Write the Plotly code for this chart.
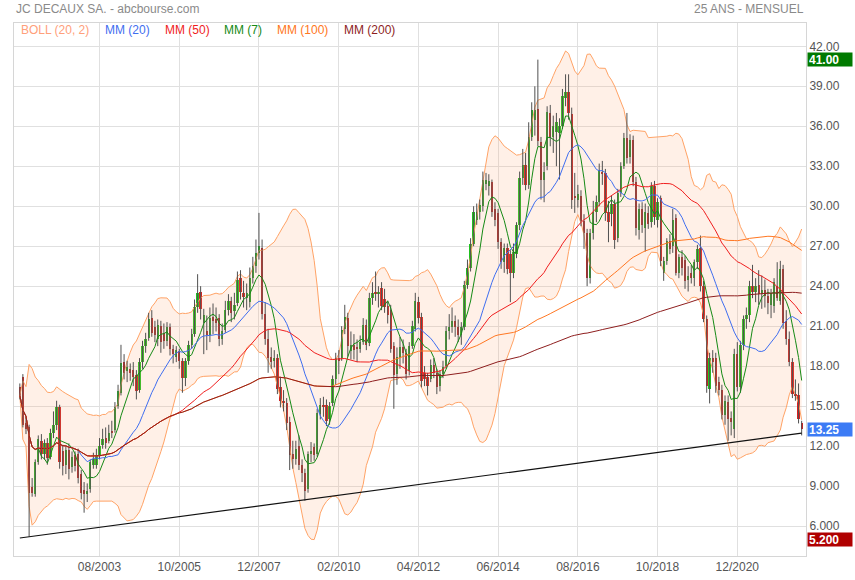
import pandas as pd
import plotly.graph_objects as go

# ---------------- data (monthly, June 2001 -> September 2022) ----------------
months = pd.date_range("2001-06-01", periods=256, freq="MS")

open_ = [
    16.4, 17.2, 13.7, 13.4, 8.9, 8.4, 10.8,
    12.4, 11.4, 12.2, 11.2, 13.0, 13.6, 14.9, 11.6, 10.6, 11.7, 10.4, 11.3,
    11.4, 9.9, 8.7, 8.4, 8.8, 10.6, 10.6, 11.3, 12.1, 12.6, 12.4, 13.1,
    13.2, 15.0, 16.0, 18.3, 17.6, 17.8, 17.7, 17.3, 16.2, 18.3, 19.5, 20.1,
    21.6, 20.9, 20.0, 21.0, 20.5, 19.9, 20.9, 19.3, 18.7, 19.1, 18.4, 17.1,
    18.4, 19.6, 20.4, 22.4, 23.6, 21.2, 20.6, 20.3, 21.7, 21.5, 21.6, 20.0,
    20.7, 22.2, 22.9, 22.1, 22.7, 24.6, 23.5, 23.1, 22.8, 24.6, 25.5, 26.5,
    26.9, 21.9, 20.0, 18.7, 18.4, 18.6, 16.4, 15.4, 15.2, 13.8, 11.4, 11.0,
    12.0, 10.6, 10.0, 8.8, 11.4, 11.9, 11.4, 14.4, 15.1, 15.1, 14.0, 15.2,
    17.0, 18.6, 18.6, 20.8, 21.6, 19.1, 19.6, 19.4, 19.3, 19.8, 21.1, 19.7,
    23.1, 23.6, 23.4, 23.9, 23.0, 22.5, 22.2, 19.5, 17.4, 18.6, 19.4, 19.0,
    17.6, 19.5, 20.8, 22.8, 21.7, 17.5, 17.2, 17.0, 18.1, 17.5, 16.5, 17.4,
    18.0, 20.6, 20.9, 21.4, 20.9, 20.3, 20.9, 24.1, 25.4, 27.2, 29.0, 29.6,
    30.0, 31.7, 31.5, 31.8, 29.8, 29.5, 27.3, 25.8, 26.9, 26.4, 25.0, 26.4,
    28.6, 32.1, 33.1, 31.6, 35.2, 36.5, 37.3, 34.8, 32.0, 33.0, 37.0, 35.2,
    35.6, 35.5, 36.0, 38.1, 38.6, 36.9, 30.8, 30.5, 30.8, 28.9, 28.0, 24.6,
    28.0, 29.6, 30.3, 32.6, 32.5, 29.6, 29.4, 30.2, 27.6, 31.0, 33.0, 35.1,
    33.7, 35.0, 31.8, 28.2, 29.8, 28.4, 29.5, 28.8, 31.5, 29.0, 30.6, 25.0,
    25.9, 27.4, 27.0, 29.1, 25.0, 26.2, 26.0, 24.5, 25.0, 24.6, 25.8, 26.9,
    24.0, 21.5, 16.3, 18.6, 18.6, 16.8, 16.2, 14.3, 15.3, 14.1, 13.3, 18.9,
    16.4, 19.6, 21.5, 21.8, 24.0, 23.6, 24.1, 23.4, 23.7, 23.3, 22.6, 22.5,
    24.0, 22.9, 25.3, 21.4, 20.0, 18.3, 15.9, 15.8, 13.7,
]
high = [
    16.7, 17.4, 14.2, 13.6, 9.6, 11.0, 12.8,
    12.9, 12.5, 12.6, 13.3, 14.6, 15.4, 15.1, 12.1, 12.0, 12.2, 11.6, 11.6,
    11.8, 10.2, 9.3, 9.2, 11.0, 11.5, 11.8, 12.6, 13.3, 13.4, 13.6, 13.9,
    15.3, 16.6, 19.6, 18.9, 18.4, 18.2, 18.3, 17.7, 18.6, 19.9, 20.5, 22.0,
    22.2, 21.4, 21.5, 21.4, 21.2, 21.3, 21.2, 19.6, 19.5, 19.3, 18.6, 18.6,
    19.9, 20.8, 23.0, 24.9, 24.0, 22.3, 21.8, 22.4, 22.7, 22.4, 21.9, 21.2,
    22.9, 23.4, 23.2, 23.5, 25.1, 25.2, 24.4, 24.2, 25.4, 26.2, 27.5, 29.5,
    27.5, 22.8, 20.8, 19.4, 19.2, 18.9, 17.2, 16.2, 15.6, 14.2, 12.4, 12.4,
    12.8, 11.0, 10.3, 11.6, 12.3, 12.2, 14.8, 15.6, 15.7, 15.5, 15.3, 17.3,
    19.0, 19.2, 21.0, 22.6, 22.0, 20.6, 20.4, 20.0, 20.3, 21.6, 21.5, 23.5,
    24.3, 25.1, 24.0, 24.3, 23.8, 22.9, 22.6, 19.8, 19.4, 20.2, 20.0, 19.3,
    19.8, 21.4, 23.5, 23.2, 22.0, 18.0, 17.5, 18.5, 18.6, 17.8, 17.7, 18.4,
    21.0, 21.9, 22.4, 21.8, 21.5, 21.3, 24.4, 26.0, 27.6, 30.0, 30.2, 30.5,
    32.6, 32.5, 32.4, 32.0, 30.3, 29.8, 27.6, 27.2, 27.2, 26.7, 27.2, 28.8,
    32.6, 34.3, 34.0, 36.3, 37.8, 39.0, 41.0, 35.2, 33.3, 37.5, 37.6, 36.8,
    37.0, 36.6, 38.8, 39.9, 39.9, 37.4, 32.5, 31.6, 31.2, 29.4, 28.3, 28.3,
    30.4, 30.8, 33.2, 33.4, 32.8, 30.4, 30.8, 30.5, 31.3, 33.3, 35.5, 37.0,
    35.4, 35.3, 32.2, 30.2, 30.3, 30.2, 30.0, 31.8, 31.9, 30.6, 30.8, 26.2,
    27.6, 27.9, 29.8, 29.4, 26.4, 26.7, 26.3, 25.5, 25.6, 26.0, 27.1, 27.8,
    24.4, 21.8, 19.0, 19.2, 19.0, 17.2, 16.6, 15.8, 15.8, 14.6, 19.3, 19.8,
    19.9, 21.8, 22.4, 24.4, 25.6, 24.6, 25.2, 24.8, 24.5, 23.8, 23.8, 24.6,
    25.8, 25.9, 25.6, 22.2, 20.6, 18.6, 17.0, 16.7, 13.9,
]
low = [
    15.5, 13.4, 12.9, 5.2, 8.2, 8.2, 10.6,
    11.0, 11.0, 10.6, 11.0, 12.6, 13.2, 10.3, 9.8, 9.9, 9.5, 10.0, 10.1,
    9.2, 8.0, 7.0, 7.8, 8.5, 10.3, 10.3, 11.0, 11.8, 11.8, 12.2, 12.6,
    13.0, 14.8, 15.8, 17.0, 16.8, 16.9, 16.5, 15.5, 16.0, 17.8, 19.0, 19.9,
    20.2, 19.8, 19.5, 19.0, 19.3, 19.5, 18.8, 18.2, 18.3, 17.8, 16.0, 16.5,
    18.1, 19.3, 20.2, 22.0, 21.5, 18.9, 19.2, 19.8, 20.4, 20.6, 19.5, 19.6,
    20.5, 21.8, 21.3, 21.5, 22.5, 23.0, 22.4, 22.2, 22.4, 24.2, 25.0, 26.0,
    21.5, 19.6, 17.5, 17.8, 17.9, 15.9, 14.9, 14.6, 13.2, 10.2, 10.3, 10.6,
    10.2, 9.3, 7.9, 8.5, 10.8, 10.9, 11.2, 14.0, 14.2, 13.5, 13.6, 15.0,
    16.6, 17.4, 18.4, 20.4, 18.7, 18.5, 18.5, 18.3, 19.0, 19.6, 19.2, 19.5,
    22.6, 22.9, 22.4, 22.2, 22.0, 21.2, 19.0, 14.8, 16.6, 17.8, 18.2, 17.0,
    17.3, 19.3, 20.6, 21.2, 16.4, 16.5, 15.8, 16.8, 17.1, 15.9, 16.1, 17.1,
    17.8, 20.0, 20.5, 20.2, 19.8, 19.6, 20.7, 23.8, 25.1, 27.0, 28.6, 29.0,
    29.6, 31.2, 30.8, 29.2, 28.5, 26.8, 25.3, 25.0, 24.9, 22.8, 24.6, 26.1,
    28.2, 31.6, 31.2, 31.3, 34.9, 35.3, 34.5, 30.5, 30.3, 32.7, 34.5, 34.0,
    33.0, 32.0, 35.8, 37.5, 36.5, 29.8, 29.5, 29.9, 28.5, 26.8, 24.0, 24.2,
    27.5, 28.8, 30.0, 31.6, 28.9, 27.3, 28.5, 26.8, 27.3, 30.7, 32.8, 33.2,
    33.2, 31.5, 27.8, 27.5, 28.0, 26.6, 28.3, 28.4, 28.6, 28.4, 25.5, 24.4,
    25.6, 26.4, 26.5, 24.8, 24.6, 24.8, 23.8, 23.6, 24.2, 24.0, 25.3, 23.6,
    21.3, 16.0, 15.2, 17.5, 16.0, 15.8, 14.0, 13.6, 12.4, 12.8, 12.6, 16.1,
    16.0, 19.2, 20.8, 21.3, 23.1, 22.8, 22.6, 22.3, 22.4, 21.9, 21.6, 22.0,
    22.9, 22.6, 20.8, 19.6, 18.0, 15.6, 15.4, 13.7, 12.8,
]
close = [
    15.8, 13.6, 13.3, 8.5, 8.5, 10.8, 12.5,
    11.4, 12.2, 11.1, 13.0, 13.6, 14.9, 10.8, 10.5, 11.7, 10.3, 11.2, 10.5,
    9.6, 8.5, 8.4, 8.6, 10.8, 11.0, 11.3, 12.0, 12.5, 12.2, 13.0, 13.0,
    14.9, 16.1, 18.2, 17.5, 17.9, 17.5, 17.2, 16.1, 18.3, 19.5, 20.0, 21.5,
    20.5, 20.3, 21.1, 19.8, 19.9, 20.9, 19.3, 18.9, 19.2, 18.4, 17.1, 18.4,
    19.6, 20.4, 22.4, 23.5, 22.3, 21.8, 20.3, 21.6, 21.4, 21.2, 20.0, 20.6,
    22.2, 22.9, 22.0, 22.6, 24.5, 23.6, 23.2, 23.5, 24.6, 25.5, 26.5, 27.0,
    21.9, 20.0, 18.6, 18.3, 18.6, 16.3, 15.4, 15.2, 13.7, 11.3, 11.0, 11.8,
    10.6, 10.0, 8.6, 11.4, 11.6, 11.3, 14.5, 15.1, 14.9, 13.9, 15.0, 17.0,
    18.6, 18.4, 20.7, 21.7, 19.5, 19.6, 19.2, 19.3, 19.8, 21.1, 19.6, 23.1,
    23.5, 23.4, 23.6, 22.5, 22.4, 21.8, 19.3, 17.3, 18.7, 19.4, 19.0, 17.4,
    19.5, 21.0, 22.9, 21.6, 16.9, 17.0, 16.5, 18.1, 17.5, 16.4, 17.4, 17.9,
    20.6, 20.9, 21.4, 20.9, 20.3, 20.9, 24.1, 25.4, 27.2, 29.6, 29.6, 30.1,
    32.0, 32.0, 31.9, 29.6, 29.0, 27.3, 25.8, 26.9, 25.3, 25.0, 26.6, 28.6,
    32.1, 33.1, 31.6, 35.2, 37.2, 37.2, 34.9, 32.0, 32.6, 37.1, 35.1, 36.0,
    36.3, 36.0, 38.3, 38.6, 37.0, 30.5, 30.6, 30.9, 28.9, 28.0, 24.6, 28.0,
    29.6, 30.3, 32.7, 32.4, 29.5, 28.8, 30.2, 27.5, 31.0, 33.0, 35.1, 33.6,
    35.0, 31.8, 28.4, 29.8, 28.6, 29.6, 28.7, 31.5, 29.2, 30.3, 25.9, 25.9,
    27.4, 26.8, 29.0, 25.0, 26.2, 25.4, 24.4, 24.8, 24.6, 25.8, 26.8, 24.0,
    21.5, 16.5, 18.6, 18.3, 16.5, 16.2, 14.3, 15.4, 14.0, 13.8, 18.9, 16.4,
    19.6, 21.5, 21.8, 24.0, 23.6, 24.0, 23.4, 23.7, 23.3, 22.7, 23.4, 24.3,
    23.1, 25.3, 21.2, 20.0, 18.3, 15.9, 15.8, 14.0, 13.25,
]

# support line drawn on the chart (two anchor points)
trend_dates = ["2001-06-01", "2022-09-01"]
trend_values = [5.1, 12.97]

x_tick_dates = ["2003-08-01", "2005-10-01", "2007-12-01", "2010-02-01", "2012-04-01",
                "2014-06-01", "2016-08-01", "2018-10-01", "2020-12-01"]
x_tick_text = ["08/2003", "10/2005", "12/2007", "02/2010", "04/2012",
               "06/2014", "08/2016", "10/2018", "12/2020"]
y_tick_vals = [6, 9, 12, 15, 18, 21, 24, 27, 30, 33, 36, 39, 42]
y_tick_text = ["6.000", "9.000", "12.00", "15.00", "18.00", "21.00", "24.00",
               "27.00", "30.00", "33.00", "36.00", "39.00", "42.00"]

# ---------------- indicators ----------------
s = pd.Series(close, index=months)
ma = {n: s.rolling(n, min_periods=1).mean() for n in (7, 20, 50, 100, 200)}
sd20 = s.rolling(20, min_periods=1).std(ddof=0)
boll_up = ma[20] + 2 * sd20
boll_dn = ma[20] - 2 * sd20

C_BOLL = "#FFA366"
C_MM20 = "#3F6EF0"
C_MM50 = "#F01E1E"
C_MM7 = "#168A16"
C_MM100 = "#FF7722"
C_MM200 = "#8E1E1E"

fig = go.Figure()

# Bollinger band
fig.add_trace(go.Scatter(x=months, y=boll_up, mode="lines",
                         line=dict(color=C_BOLL, width=1), hoverinfo="skip", showlegend=False))
fig.add_trace(go.Scatter(x=months, y=boll_dn, mode="lines", fill="tonexty",
                         fillcolor="rgba(255,165,115,0.17)",
                         line=dict(color=C_BOLL, width=1), hoverinfo="skip", showlegend=False))

# candle wicks
wx, wy = [], []
for d, h, l in zip(months, high, low):
    wx += [d, d, None]
    wy += [l, h, None]
fig.add_trace(go.Scatter(x=wx, y=wy, mode="lines", line=dict(color="#505050", width=1),
                         hoverinfo="skip", showlegend=False))

# candle bodies
base = [min(o, c) for o, c in zip(open_, close)]
height = [max(abs(c - o), 0.1) for o, c in zip(open_, close)]
colors = ["#1FC01F" if c >= o else "#DA1F1F" for o, c in zip(open_, close)]
fig.add_trace(go.Bar(x=months, y=height, base=base, marker=dict(color=colors, line=dict(width=0)),
                     width=23 * 86400000, showlegend=False, hoverinfo="skip"))

# moving averages
for n, col in ((7, C_MM7), (20, C_MM20), (50, C_MM50), (100, C_MM100), (200, C_MM200)):
    fig.add_trace(go.Scatter(x=months, y=ma[n], mode="lines", line=dict(color=col, width=1),
                             hoverinfo="skip", showlegend=False))

# support line
fig.add_trace(go.Scatter(x=trend_dates, y=trend_values, mode="lines",
                         line=dict(color="#111111", width=1.2), hoverinfo="skip", showlegend=False))

FONT = "Liberation Sans, Arial, sans-serif"
ann = []
ann.append(dict(text="JC DECAUX SA. - abcbourse.com", xref="paper", yref="paper", x=0, y=1.026,
                xanchor="left", yanchor="middle", showarrow=False, font=dict(size=12, color="#8A8A8A")))
ann.append(dict(text="25 ANS - MENSUEL", xref="paper", yref="paper", x=1, y=1.026,
                xanchor="right", yanchor="middle", showarrow=False, font=dict(size=12, color="#8A8A8A")))

legend_items = [("BOLL (20, 2)", "#FFA07A", 5), ("MM (20)", C_MM20, 89), ("MM (50)", C_MM50, 149),
                ("MM (7)", C_MM7, 208), ("MM (100)", C_MM100, 261), ("MM (200)", C_MM200, 328)]
for txt, col, px in legend_items:
    ann.append(dict(text=txt, xref="paper", yref="paper", x=px / 792, y=0.987,
                    xanchor="left", yanchor="middle", showarrow=False,
                    font=dict(size=12, color=col)))

def badge(val, bg, shift=0):
    return dict(text="<b>%s</b>" % format(val, "#.4g"), xref="paper", yref="y", x=1, y=val,
                xanchor="left", yanchor="middle", xshift=1, yshift=shift, showarrow=False,
                bgcolor=bg, width=42, height=11, align="left", borderpad=1,
                font=dict(size=12, color="white"))

ann.append(badge(max(high), "#007A00"))
ann.append(badge(close[-1], "#3C7BF5"))
ann.append(badge(min(low), "#B00000", -3))

fig.update_layout(
    width=855, height=580,
    margin=dict(l=14, r=49, t=23, b=24, autoexpand=False),
    paper_bgcolor="white", plot_bgcolor="white",
    font=dict(family=FONT, size=12, color="#555555"),
    showlegend=False, bargap=0,
    annotations=ann,
    xaxis=dict(type="date", range=["2001-04-04", "2022-10-14"],
               tickvals=x_tick_dates, ticktext=x_tick_text, automargin=False,
               showgrid=True, gridcolor="#E0E0E0", gridwidth=1,
               showline=True, linecolor="#D6D6D6", mirror=True, ticks="",
               zeroline=False, tickfont=dict(size=12, color="#555555")),
    yaxis=dict(side="right", range=[3.75, 43.75], tickvals=y_tick_vals, ticktext=y_tick_text,
               automargin=False,
               showgrid=True, gridcolor="#E0E0E0", gridwidth=1,
               showline=True, linecolor="#D6D6D6", mirror=True, ticks="",
               zeroline=False, tickfont=dict(size=12, color="#555555")),
)

fig.write_html("out.html", config={"displayModeBar": False},
               post_script="document.body.style.margin='0px';document.body.style.overflow='hidden';")
